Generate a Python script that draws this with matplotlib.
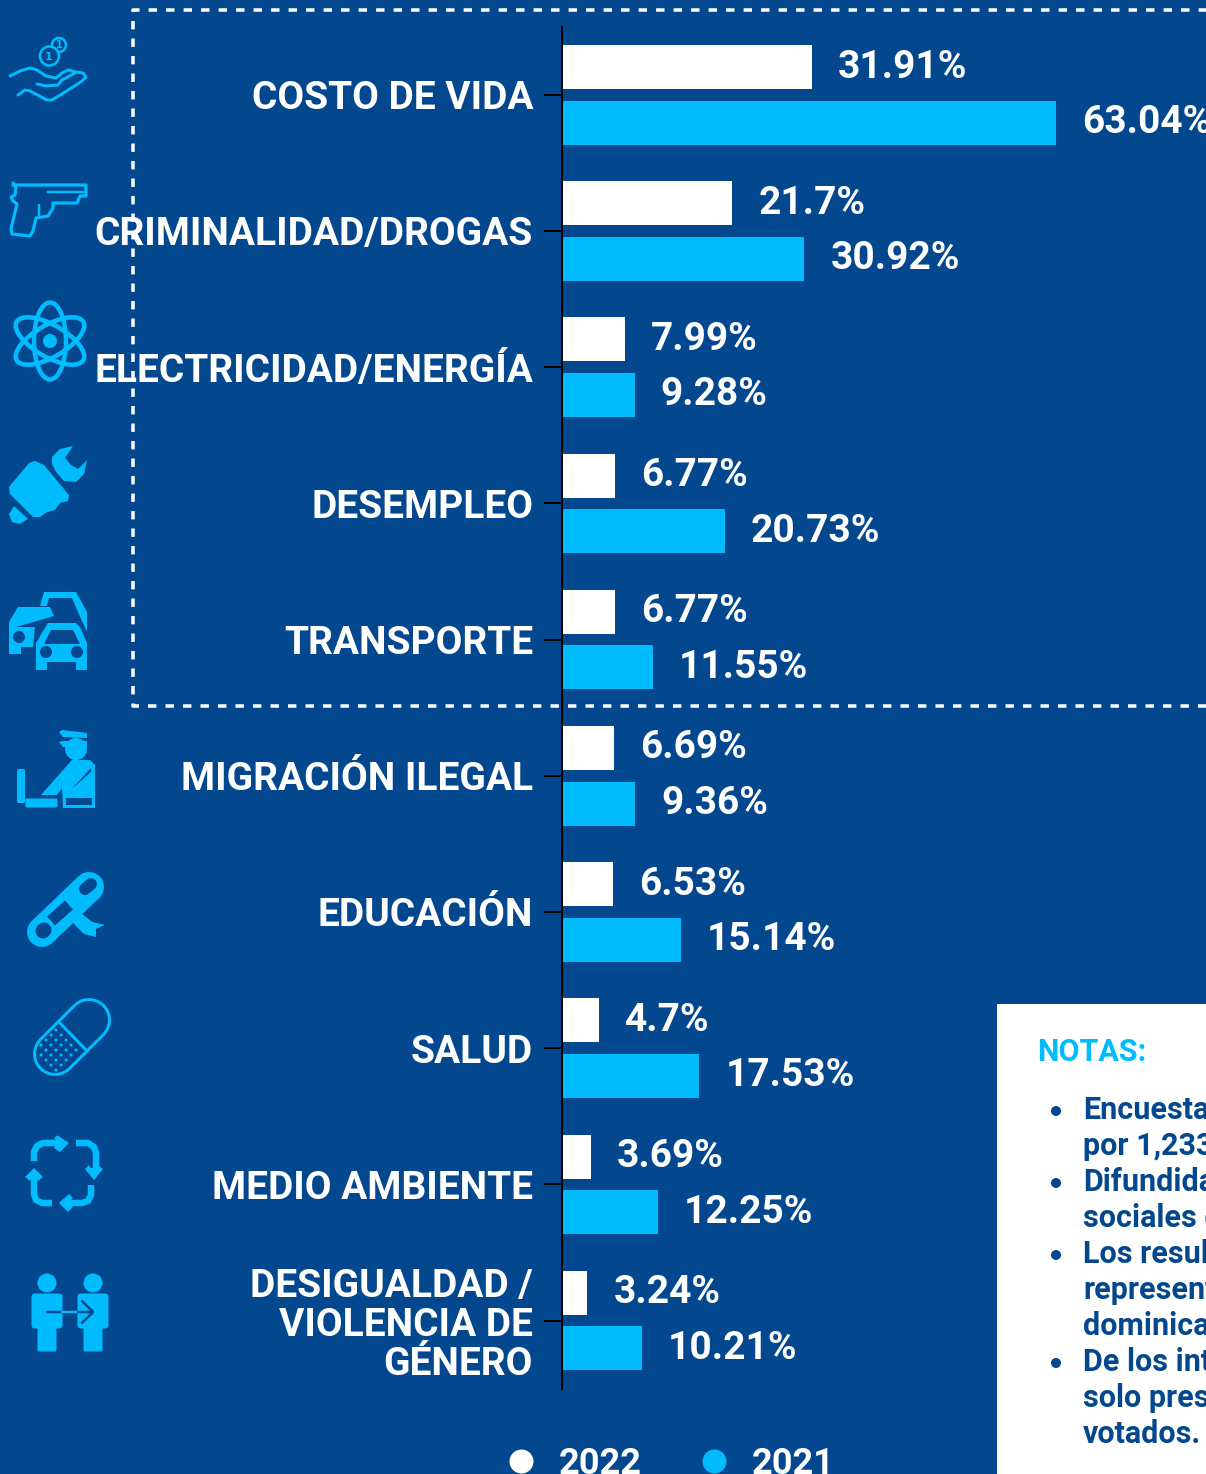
import numpy as np
import matplotlib
matplotlib.use("Agg")
import matplotlib.pyplot as plt
from matplotlib.lines import Line2D
from matplotlib.patches import Circle, Ellipse, Polygon, Rectangle, FancyBboxPatch

categories = ["COSTO DE VIDA", "CRIMINALIDAD/DROGAS", "ELECTRICIDAD/ENERGÍA", "DESEMPLEO",
              "TRANSPORTE", "MIGRACIÓN ILEGAL", "EDUCACIÓN", "SALUD", "MEDIO AMBIENTE",
              "DESIGUALDAD /\nVIOLENCIA DE\nGÉNERO"]
values_2022 = [31.91, 21.7, 7.99, 6.77, 6.77, 6.69, 6.53, 4.7, 3.69, 3.24]
values_2021 = [63.04, 30.92, 9.28, 20.73, 11.55, 9.36, 15.14, 17.53, 12.25, 10.21]
note_lines = ["Encuesta", "por 1,233", "Difundida", "sociales d", "Los resul", "represent",
              "dominica", "De los int", "solo pres", "votados."]
bullet_lines = [0, 2, 4, 7]

BG = "#03488E"
CYAN = "#00BCFF"
W, H = 1206, 1474
NARROW = ["Liberation Sans Narrow", "Roboto"]


def px(n):
    # pixels to points at dpi 100
    return n * 0.72


fig = plt.figure(figsize=(W / 100, H / 100), dpi=100, facecolor=BG)

# main chart, axis line at x=562, row spacing 136.2 px
ax = fig.add_axes([562 / W, 1 - 1388.65 / H, (W - 562) / W, (1388.65 - 26.65) / H])
ax.set_facecolor("none")
y = np.arange(len(categories))
bar_h = 44 / 136.2
off = 27.75 / 136.2
b1 = ax.barh(y - off, values_2022, height=bar_h, color="white", linewidth=0)
b2 = ax.barh(y + off, values_2021, height=bar_h, color=CYAN, linewidth=0)
ax.set_xlim(0, (W - 562) / 7.84)
ax.set_ylim(9.5, -0.5)
for b in (b1, b2):
    ax.bar_label(b, fmt=lambda v: f"{v:g}%", padding=px(26), color="white", fontsize=28,
                 fontweight="bold", family=NARROW, clip_on=False)

for s in ["top", "right", "bottom"]:
    ax.spines[s].set_visible(False)
ax.spines["left"].set_color("black")
ax.spines["left"].set_linewidth(px(2))
ax.xaxis.set_visible(False)
ax.set_yticks(y)
ax.set_yticklabels(categories, color="white", fontsize=28, fontweight="bold", family=NARROW,
                   ha="right", multialignment="right", linespacing=1.06)
ax.tick_params(axis="y", length=px(18), width=px(2), color="black", pad=px(11))

# overlay in pixel coordinates for the box, notes panel and icons
ov = fig.add_axes([0, 0, 1, 1])
ov.set_xlim(0, W)
ov.set_ylim(H, 0)
ov.axis("off")
ov.patch.set_alpha(0)

ov.plot([W + 10, 133, 133, W + 10], [10, 10, 706, 706], color="white", lw=px(3.5),
        dashes=(2.4, 2.6), solid_capstyle="butt")

ov.add_patch(Rectangle((997, 1004), W - 997, H - 1004, color="white", lw=0))
ov.text(1037, 1052, "NOTAS:", color=CYAN, fontsize=22, fontweight="bold", family="Roboto", va="center")
for i, line in enumerate(note_lines):
    ly = 1110 + 36 * i
    ov.text(1083, ly, line, color=BG, fontsize=22, fontweight="bold", family="Roboto", va="center")
    if i in bullet_lines:
        ov.add_patch(Circle((1056, ly + 1), 5, color=BG, lw=0))


def line(pts, lw=3, color=CYAN, cap="round", z=3):
    xs, ys = zip(*pts)
    ov.plot(xs, ys, color=color, lw=px(lw), solid_capstyle=cap, solid_joinstyle="round", zorder=z)


def fill(pts, color=CYAN, z=3):
    ov.add_patch(Polygon(pts, closed=True, facecolor=color, edgecolor="none", zorder=z))


def disc(x, y0, r, color=CYAN, z=3):
    ov.add_patch(Circle((x, y0), r, facecolor=color, edgecolor="none", zorder=z))


def ring(x, y0, r, lw=2.5):
    ov.add_patch(Circle((x, y0), r, facecolor=BG, edgecolor=CYAN, lw=px(lw), zorder=3))


# hand with coins
ring(59, 45, 7)
ring(49.5, 56, 9.5)
ov.text(59, 45, "1", color=CYAN, fontsize=7, fontweight="bold", ha="center", va="center", zorder=4)
ov.text(49, 57, "1", color=CYAN, fontsize=8, fontweight="bold", ha="center", va="center", zorder=4)
line([(10, 76), (20, 71), (30, 68), (37, 70), (46, 76), (56, 78), (62, 73), (68, 70), (76, 72), (83, 73),
      (86, 77), (82, 81), (62, 94), (52, 100), (47, 100), (30, 91), (25, 90), (18, 95)])
line([(37, 84), (46, 86), (58, 85), (62, 80), (75, 73)])

# pistol
line([(13, 183), (16, 188), (15, 195), (11, 197), (13, 201), (17, 204), (11, 229), (12, 234), (30, 236),
      (33, 231), (36, 218), (48, 216), (53, 208), (53, 203), (77, 203), (80, 196), (86, 196), (86, 185), (13, 185)],
     lw=3.2)
line([(48, 192), (84, 192)], lw=2.5)
line([(39, 205), (39, 216)], lw=2.5)

# atom
for ang in (30, 90, 150):
    ov.add_patch(Ellipse((50, 341), 77, 32, angle=ang, facecolor="none", edgecolor=CYAN, lw=px(4.5), zorder=3))
disc(50, 341, 11, BG)
disc(50, 341, 7)

# fist with wrench
fill([(9, 487), (29, 463), (35, 461), (44, 465), (69, 495), (68, 501), (60, 503), (55, 510), (47, 512),
      (40, 517), (33, 517), (10, 494)])
fill([(14, 506), (28, 519), (20, 524), (12, 522), (9, 514)])
fill([(73, 446), (60, 449), (52, 457), (52, 464), (56, 472), (64, 481), (76, 482), (84, 474), (87, 460),
      (78, 469), (71, 465), (65, 458)])

# traffic
fill([(40, 606), (44, 592), (76, 592), (87, 612), (87, 632), (78, 612), (72, 598), (49, 598), (47, 606)])
fill([(9, 622), (18, 607), (20, 607), (50, 607), (54, 616), (16, 627), (35, 627), (33, 647), (21, 647), (21, 654), (9, 654)])
fill([(36, 643), (46, 626), (48, 623), (76, 623), (80, 627), (87, 643), (87, 670), (76, 670), (76, 662), (47, 662), (47, 670), (36, 670)])
fill([(44, 644), (51, 630), (73, 630), (80, 644)], BG, 4)
disc(46, 652, 6, BG, 4)
disc(77, 652, 6, BG, 4)
disc(19, 637, 6, BG, 4)
disc(77, 620, 6, BG, 2)

# officer
fill([(59, 732), (62, 730), (87, 733), (87, 738), (63, 737)])
fill([(59, 742), (63, 741), (87, 741), (87, 747), (63, 747)])
ov.add_patch(Circle((76, 749), 11, facecolor=CYAN, edgecolor="none", zorder=3))
ov.add_patch(Rectangle((58, 731), 36, 18, facecolor="none", edgecolor="none"))
fill([(41, 795), (72, 760), (90, 760), (95, 765), (95, 808), (63, 808), (62, 788), (57, 795)])
fill([(66, 795), (91, 768), (92, 800), (66, 800)], BG, 4)
fill([(66, 794), (92, 771), (92, 798), (66, 798)], CYAN, 5)
fill([(66, 800), (92, 800), (92, 805), (66, 805)], BG, 5)
ov.add_patch(FancyBboxPatch((19, 771), 4, 30, boxstyle="round,pad=2", facecolor=CYAN, edgecolor="none", zorder=3))
ov.add_patch(FancyBboxPatch((27, 800), 29, 6, boxstyle="round,pad=1.5", facecolor=CYAN, edgecolor="none", zorder=3))

# diploma
fill([(75, 908), (92, 922), (105, 925), (96, 929), (96, 937), (84, 934), (72, 922)])
line([(42, 932), (89, 887)], lw=30)
line([(43, 931), (44, 930)], lw=15, color=BG, z=4)
line([(51, 921), (69, 905)], lw=12, color=BG, cap="butt", z=4)
line([(85, 889), (91, 884)], lw=12, color=BG, z=4)

# pill
cap_a, cap_b = np.array([55, 1054]), np.array([89, 1020])
line([cap_a, cap_b], lw=44)
line([cap_a, cap_b], lw=38, color=BG, z=3.1)
line([(58, 1021), (87, 1051)], lw=3, z=3.2, cap="butt")
for gx in np.arange(36, 84, 10):
    for gy in np.arange(1020, 1076, 10):
        for sh in (0, 5):
            dx, dy = gx + sh, gy + sh
            t = np.clip(np.dot([dx - 55, dy - 1054], [1, -1]) / 68, 0, 1)
            near = np.hypot(dx - (55 + 34 * t), dy - (1054 - 34 * t))
            if near < 17.5 and (dx - 72.5) - (dy - 1036.5) < -2:
                disc(dx, dy, 1.5, z=3.3)

# recycling arrows
line([(34, 1161), (34, 1152), (37, 1146), (43, 1143), (58, 1143)], lw=6.5, cap="butt")
fill([(57, 1135), (69, 1143), (60, 1152), (54, 1148), (56, 1145), (56, 1140), (54, 1138), (59, 1134)])
line([(76, 1143), (88, 1143), (94, 1147), (96, 1153), (96, 1170)], lw=6.5, cap="butt")
fill([(85, 1169), (94, 1180), (103, 1169), (98, 1165), (96, 1168), (91, 1168), (89, 1165)])
line([(91, 1185), (91, 1195), (88, 1201), (82, 1203), (67, 1203)], lw=6.5, cap="butt")
fill([(69, 1194), (59, 1203), (68, 1212), (73, 1207), (70, 1205), (70, 1201), (73, 1198)])
line([(52, 1203), (42, 1203), (36, 1200), (34, 1194), (34, 1177)], lw=6.5, cap="butt")
fill([(25, 1177), (34, 1168), (43, 1177), (38, 1181), (36, 1178), (32, 1178), (30, 1181)])

# two people
for cx in (47, 93):
    disc(cx, 1283, 9.5)
    ov.add_patch(FancyBboxPatch((cx - 12, 1297), 24, 28, boxstyle="round,pad=3.5", facecolor=CYAN,
                                edgecolor="none", zorder=3))
    ov.add_patch(FancyBboxPatch((cx - 8, 1325), 16, 25, boxstyle="round,pad=1.5", facecolor=CYAN,
                                edgecolor="none", zorder=3))
line([(47, 1312), (62, 1312)], lw=2.5, color=BG, z=4)
line([(62, 1312), (78, 1312)], lw=2.5, z=4)
line([(78, 1312), (93, 1312)], lw=2.5, color=BG, z=4)
line([(82, 1301), (93, 1312), (82, 1323)], lw=2.5, color=BG, z=4)

# legend runs off the bottom edge like the source
handles = [Line2D([], [], marker="o", ls="none", color="white", markersize=px(24), markeredgewidth=0),
           Line2D([], [], marker="o", ls="none", color=CYAN, markersize=px(24), markeredgewidth=0)]
leg = fig.legend(handles, ["2022", "2021"], ncol=2, frameon=False, loc="center",
                 bbox_to_anchor=(660 / W, 1 - 1464 / H), handletextpad=0.05, columnspacing=1.0,
                 prop={"family": NARROW, "weight": "bold", "size": 26})
for t in leg.get_texts():
    t.set_color("white")

fig.savefig("out.png", dpi=100, facecolor=BG)
